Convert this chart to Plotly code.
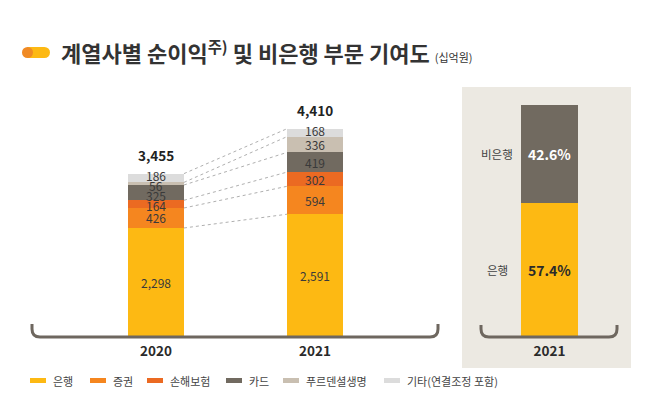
import plotly.graph_objects as go

# ---------------- data ----------------
years = ["2020", "2021"]
series_names = ["은행", "증권", "손해보험", "카드", "푸르덴셜생명", "기타(연결조정 포함)"]
bank = [2298, 2591]
securities = [426, 594]
insurance = [164, 302]
card = [325, 419]
prudential = [56, 336]
others = [186, 168]
totals = [3455, 4410]

contrib_year = "2021"
contrib_labels = ["은행", "비은행"]
contrib_values = [57.4, 42.6]

title_main = "계열사별 순이익"
title_sup = "주)"
title_rest = " 및 비은행 부문 기여도"
title_unit = "(십억원)"

# ---------------- style ----------------
OFF = 8                      # page body margin of the html page
W, H = 662 - 2 * OFF, 402 - 2 * OFF
FONT = "Noto Sans CJK KR"
colors = ["#FDB913", "#F5861F", "#EB6A22", "#716A60", "#C9BFB1", "#DCDCDC"]
TXT = "#3A3A3A"
BRACKET = "#6E675F"
BEIGE = "#ECE9E2"


def px(x):
    return (x - OFF) / W


def py(y):
    return 1 - (y - OFF) / H


series = [bank, securities, insurance, card, prudential, others]
xpos = [0, 1]
bw = 0.352
scale = 0.047  # px per unit on the left axis
y_bottom_px, y_top_px = 336, 80

fig = go.Figure()

# left stacked bars
for name, vals, col in zip(series_names, series, colors):
    fig.add_trace(go.Bar(
        x=xpos, y=vals, name=name, width=bw,
        marker=dict(color=col, line=dict(width=0)),
        xaxis="x", yaxis="y", showlegend=False, hoverinfo="skip"))

# cumulative boundaries
cum = []
for j in range(len(years)):
    s = 0
    c = []
    for vals in series:
        s += vals[j]
        c.append(s)
    cum.append(c)

# dotted connectors
for i in range(len(series)):
    fig.add_trace(go.Scatter(
        x=[xpos[0] + bw / 2, xpos[1] - bw / 2],
        y=[cum[0][i], cum[1][i]],
        mode="lines", line=dict(color="#9A9A9A", width=0.8, dash="dot"),
        xaxis="x", yaxis="y", showlegend=False, hoverinfo="skip"))

annotations = []
# segment labels, spread top-down so that small segments stay readable
GAP = 10.0
TOP_LIFT = 2.0
for j in range(len(years)):
    centers = []
    base = 0
    for vals in series:
        centers.append(base + vals[j] / 2)
        base += vals[j]
    shifts = [0.0] * len(series)
    prev_px = None
    for i in reversed(range(len(series))):
        cpx = centers[i] * scale          # height above baseline, px
        if prev_px is None:
            pos = cpx + (TOP_LIFT if series[i][j] * scale < GAP else 0)
        else:
            pos = min(cpx, prev_px - GAP)
        shifts[i] = pos - cpx
        prev_px = pos
    for i, vals in enumerate(series):
        annotations.append(dict(
            x=xpos[j], y=centers[i], xref="x", yref="y", yshift=shifts[i],
            text=f"{vals[j]:,}", showarrow=False,
            font=dict(family=FONT, size=12, color=TXT)))
    annotations.append(dict(
        x=xpos[j], y=totals[j], xref="x", yref="y", yshift=19,
        text=f"<b>{totals[j]:,}</b>", showarrow=False,
        font=dict(family=FONT, size=13.5, color="#222")))

# right panel bars
contrib_colors = ["#FDB913", "#716A60"]
contrib_text_colors = ["#2A2A2A", "#FFFFFF"]
base = 0
for lab, v, col, tc in zip(contrib_labels, contrib_values, contrib_colors, contrib_text_colors):
    fig.add_trace(go.Bar(
        x=[0], y=[v], name=lab, width=1.0,
        marker=dict(color=col, line=dict(width=0)),
        xaxis="x2", yaxis="y2", showlegend=False, hoverinfo="skip"))
    annotations.append(dict(
        x=0, y=base + v / 2, xref="x2", yref="y2",
        text=f"<b>{v}%</b>", showarrow=False,
        font=dict(family=FONT, size=14, color=tc)))
    annotations.append(dict(
        x=-0.92, y=base + v / 2, xref="x2", yref="y2",
        text=lab, showarrow=False,
        font=dict(family=FONT, size=11.5, color="#444")))
    base += v

# title
annotations.append(dict(
    x=px(59), y=py(52), xref="paper", yref="paper", xanchor="left", yanchor="middle",
    text=(f"<b>{title_main}<sup>{title_sup}</sup>{title_rest}</b> "
          f"<span style='font-size:11px'>{title_unit}</span>"),
    showarrow=False, font=dict(family=FONT, size=22, color="#333")))

shapes = []
# beige panel
shapes.append(dict(type="rect", xref="paper", yref="paper", layer="below",
                   x0=px(462), x1=px(631), y0=py(368), y1=py(87),
                   fillcolor=BEIGE, line=dict(width=0)))

# title pill icon
shapes.append(dict(type="rect", xref="paper", yref="paper",
                   x0=px(27.5), x1=px(44.5), y0=py(58), y1=py(47),
                   fillcolor="#FDB913", line=dict(width=0)))
shapes.append(dict(type="circle", xref="paper", yref="paper",
                   x0=px(39), x1=px(50), y0=py(58), y1=py(47),
                   fillcolor="#FDB913", line=dict(width=0)))
shapes.append(dict(type="circle", xref="paper", yref="paper",
                   x0=px(22), x1=px(33), y0=py(58), y1=py(47),
                   fillcolor="#F08A24", line=dict(width=0)))


def bracket(x0, x1, ytop, ybot, r=8):
    p = (f"M {px(x0)},{py(ytop)} L {px(x0)},{py(ybot - r)} "
         f"Q {px(x0)},{py(ybot)} {px(x0 + r)},{py(ybot)} "
         f"L {px(x1 - r)},{py(ybot)} "
         f"Q {px(x1)},{py(ybot)} {px(x1)},{py(ybot - r)} "
         f"L {px(x1)},{py(ytop)}")
    return dict(type="path", xref="paper", yref="paper", path=p, layer="above",
                line=dict(color=BRACKET, width=3))


shapes.append(bracket(32, 438, 324, 337))
shapes.append(bracket(481, 617, 325, 337))

# manual legend
leg_x = [30, 90, 147, 226, 283, 384]
for lx, name, col in zip(leg_x, series_names, colors):
    shapes.append(dict(type="rect", xref="paper", yref="paper",
                       x0=px(lx), x1=px(lx + 16), y0=py(383), y1=py(378),
                       fillcolor=col, line=dict(width=0)))
    annotations.append(dict(
        x=px(lx + 21), y=py(380.5), xref="paper", yref="paper",
        xanchor="left", yanchor="middle", text=name, showarrow=False,
        font=dict(family=FONT, size=11, color="#444")))

unit_px = 159.0
fig.update_layout(
    width=W, height=H, autosize=False,
    margin=dict(l=0, r=0, t=0, b=0),
    paper_bgcolor="white", plot_bgcolor="rgba(0,0,0,0)",
    barmode="stack", bargap=0,
    font=dict(family=FONT, color=TXT),
    xaxis=dict(domain=[px(8), px(460)],
               range=[-(156 - 8) / unit_px, -(156 - 8) / unit_px + (460 - 8) / unit_px],
               tickvals=xpos, ticktext=[f"<b>{y}</b>" for y in years],
               tickfont=dict(family=FONT, size=13.5, color="#2A2A2A"),
               showgrid=False, zeroline=False, showline=False, ticks="",
               ticklabelstandoff=5, fixedrange=True),
    yaxis=dict(domain=[py(y_bottom_px), py(y_top_px)],
               range=[0, (y_bottom_px - y_top_px) / scale],
               visible=False, fixedrange=True),
    xaxis2=dict(domain=[px(462), px(631)], range=[-1.535, 1.430], anchor="y2",
                tickvals=[0], ticktext=[f"<b>{contrib_year}</b>"],
                tickfont=dict(family=FONT, size=13.5, color="#2A2A2A"),
                showgrid=False, zeroline=False, showline=False, ticks="",
                ticklabelstandoff=5, fixedrange=True),
    yaxis2=dict(domain=[py(336), py(105)], range=[0, 100], anchor="x2",
                visible=False, fixedrange=True),
    shapes=shapes, annotations=annotations,
)

fig.write_html("out.html")
